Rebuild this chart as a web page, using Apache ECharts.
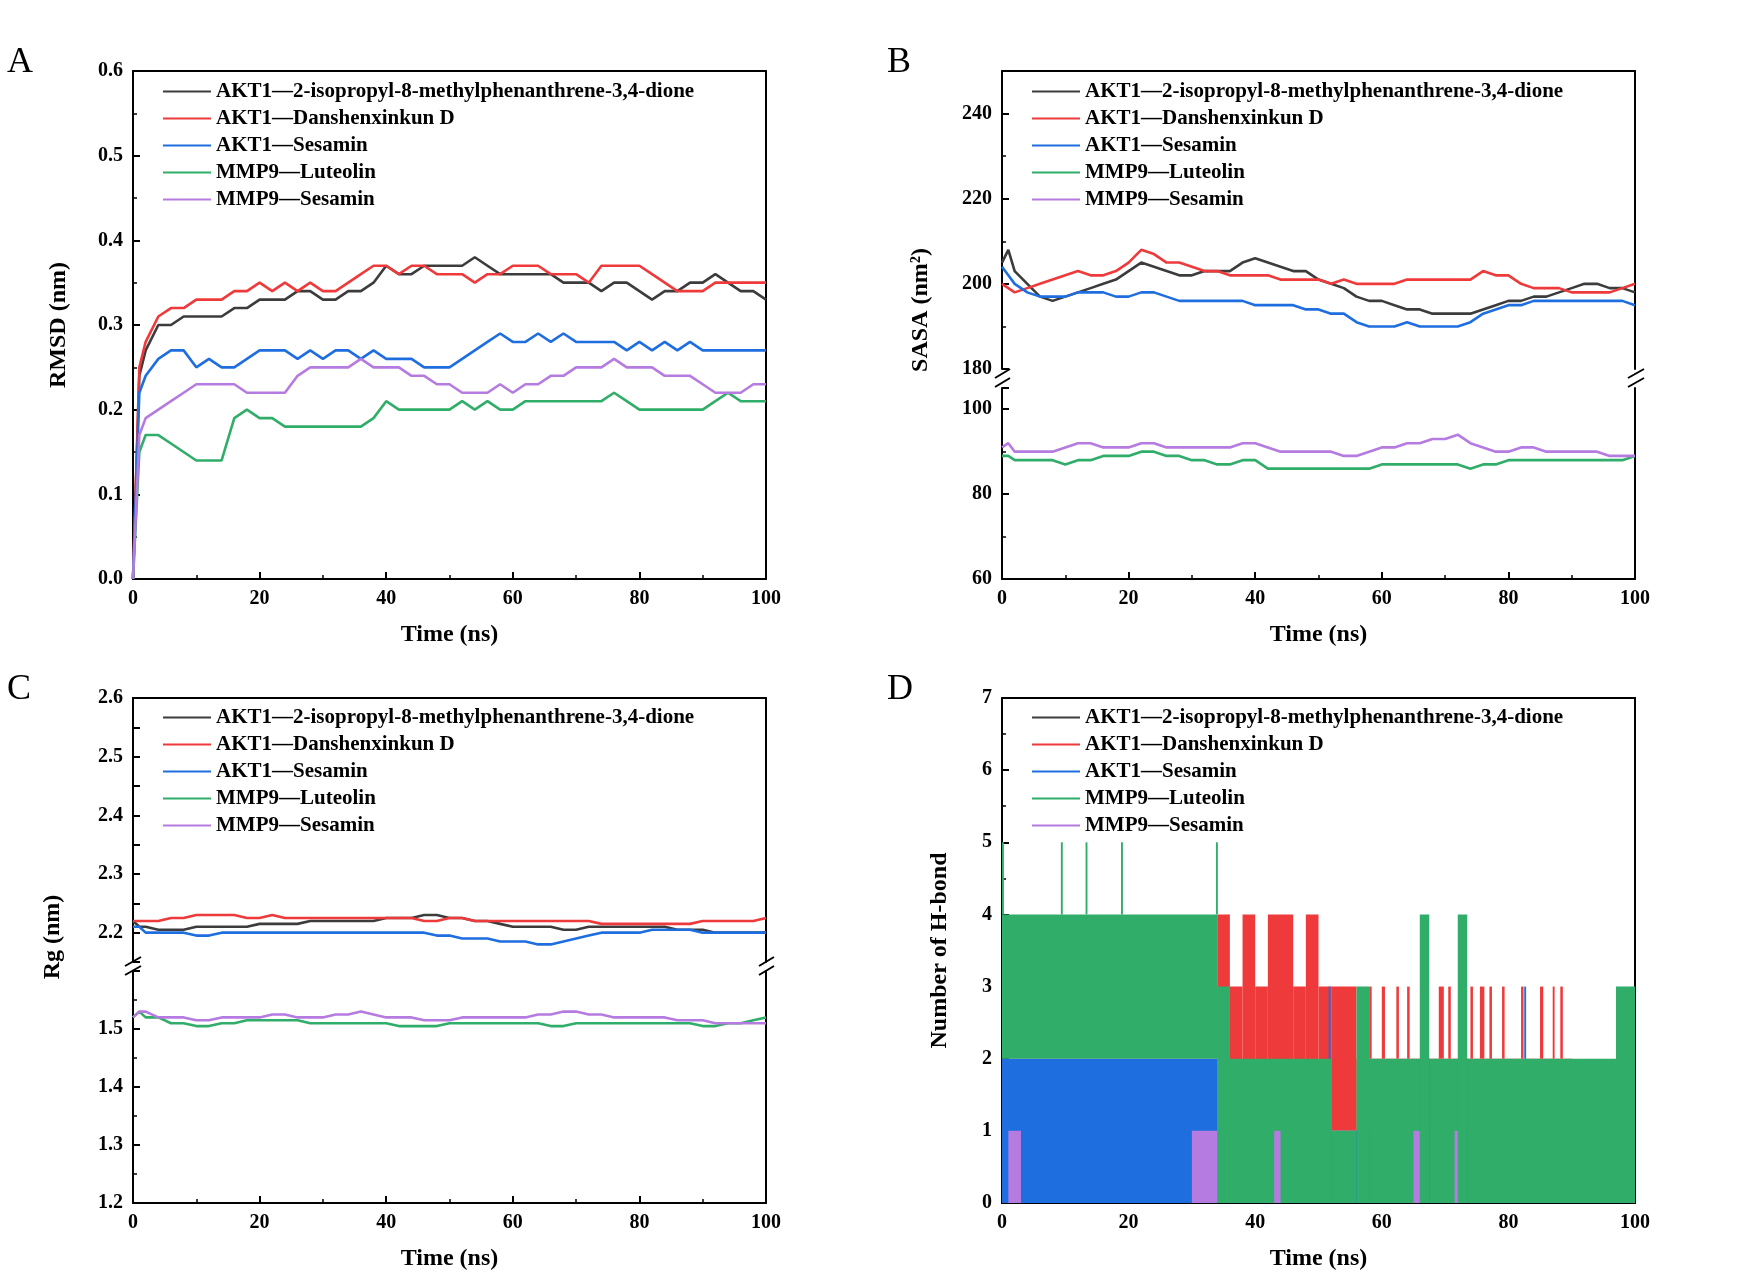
<!DOCTYPE html>
<html><head><meta charset="utf-8">
<script src="https://cdn.jsdelivr.net/npm/echarts@6/dist/echarts.min.js"></script>
<style>html,body{margin:0;background:#fff}#c{width:1752px;height:1272px}</style>
</head><body><div id="c"></div>
<script>
var names = ["AKT1\u20142-isopropyl-8-methylphenanthrene-3,4-dione","AKT1\u2014Danshenxinkun D","AKT1\u2014Sesamin","MMP9\u2014Luteolin","MMP9\u2014Sesamin"];
var colors = ["#3c3c3c","#ee3a3a","#1f6ee0","#31ad6a","#b57be0"];
var times = [0,1,2,4,6,8,10,12,14,16,18,20,22,24,26,28,30,32,34,36,38,40,42,44,46,48,50,52,54,56,58,60,62,64,66,68,70,72,74,76,78,80,82,84,86,88,90,92,94,96,98,100];

// RMSD (nm)
var rmsdBlack = [0,0.24,0.27,0.30,0.30,0.31,0.31,0.31,0.31,0.32,0.32,0.33,0.33,0.33,0.34,0.34,0.33,0.33,0.34,0.34,0.35,0.37,0.36,0.36,0.37,0.37,0.37,0.37,0.38,0.37,0.36,0.36,0.36,0.36,0.36,0.35,0.35,0.35,0.34,0.35,0.35,0.34,0.33,0.34,0.34,0.35,0.35,0.36,0.35,0.34,0.34,0.33];
var rmsdRed = [0,0.25,0.28,0.31,0.32,0.32,0.33,0.33,0.33,0.34,0.34,0.35,0.34,0.35,0.34,0.35,0.34,0.34,0.35,0.36,0.37,0.37,0.36,0.37,0.37,0.36,0.36,0.36,0.35,0.36,0.36,0.37,0.37,0.37,0.36,0.36,0.36,0.35,0.37,0.37,0.37,0.37,0.36,0.35,0.34,0.34,0.34,0.35,0.35,0.35,0.35,0.35];
var rmsdBlue = [0,0.22,0.24,0.26,0.27,0.27,0.25,0.26,0.25,0.25,0.26,0.27,0.27,0.27,0.26,0.27,0.26,0.27,0.27,0.26,0.27,0.26,0.26,0.26,0.25,0.25,0.25,0.26,0.27,0.28,0.29,0.28,0.28,0.29,0.28,0.29,0.28,0.28,0.28,0.28,0.27,0.28,0.27,0.28,0.27,0.28,0.27,0.27,0.27,0.27,0.27,0.27];
var rmsdGreen = [0,0.15,0.17,0.17,0.16,0.15,0.14,0.14,0.14,0.19,0.20,0.19,0.19,0.18,0.18,0.18,0.18,0.18,0.18,0.18,0.19,0.21,0.20,0.20,0.20,0.20,0.20,0.21,0.20,0.21,0.20,0.20,0.21,0.21,0.21,0.21,0.21,0.21,0.21,0.22,0.21,0.20,0.20,0.20,0.20,0.20,0.20,0.21,0.22,0.21,0.21,0.21];
var rmsdPurple = [0,0.17,0.19,0.20,0.21,0.22,0.23,0.23,0.23,0.23,0.22,0.22,0.22,0.22,0.24,0.25,0.25,0.25,0.25,0.26,0.25,0.25,0.25,0.24,0.24,0.23,0.23,0.22,0.22,0.22,0.23,0.22,0.23,0.23,0.24,0.24,0.25,0.25,0.25,0.26,0.25,0.25,0.25,0.24,0.24,0.24,0.23,0.22,0.22,0.22,0.23,0.23];

// SASA (nm2)
var sasaBlack = [205,208,203,200,197,196,197,198,199,200,201,203,205,204,203,202,202,203,203,203,205,206,205,204,203,203,201,200,199,197,196,196,195,194,194,193,193,193,193,194,195,196,196,197,197,198,199,200,200,199,199,198];
var sasaRed = [200,199,198,199,200,201,202,203,202,202,203,205,208,207,205,205,204,203,203,202,202,202,202,201,201,201,201,200,201,200,200,200,200,201,201,201,201,201,201,203,202,202,200,199,199,199,198,198,198,198,199,200];
var sasaBlue = [204,202,200,198,197,197,197,198,198,198,197,197,198,198,197,196,196,196,196,196,196,195,195,195,195,194,194,193,193,191,190,190,190,191,190,190,190,190,191,193,194,195,195,196,196,196,196,196,196,196,196,195];
var sasaGreen = [89,89,88,88,88,88,87,88,88,89,89,89,90,90,89,89,88,88,87,87,88,88,86,86,86,86,86,86,86,86,86,87,87,87,87,87,87,87,86,87,87,88,88,88,88,88,88,88,88,88,88,89];
var sasaPurple = [91,92,90,90,90,90,91,92,92,91,91,91,92,92,91,91,91,91,91,91,92,92,91,90,90,90,90,90,89,89,90,91,91,92,92,93,93,94,92,91,90,90,91,91,90,90,90,90,90,89,89,89];

// Rg (nm)
var rgBlack = [2.22,2.21,2.21,2.205,2.205,2.205,2.21,2.21,2.21,2.21,2.21,2.215,2.215,2.215,2.215,2.22,2.22,2.22,2.22,2.22,2.22,2.225,2.225,2.225,2.23,2.23,2.225,2.225,2.22,2.22,2.215,2.21,2.21,2.21,2.21,2.205,2.205,2.21,2.21,2.21,2.21,2.21,2.21,2.21,2.205,2.205,2.205,2.20,2.20,2.20,2.20,2.20];
var rgRed = [2.22,2.22,2.22,2.22,2.225,2.225,2.23,2.23,2.23,2.23,2.225,2.225,2.23,2.225,2.225,2.225,2.225,2.225,2.225,2.225,2.225,2.225,2.225,2.225,2.22,2.22,2.225,2.225,2.22,2.22,2.22,2.22,2.22,2.22,2.22,2.22,2.22,2.22,2.215,2.215,2.215,2.215,2.215,2.215,2.215,2.215,2.22,2.22,2.22,2.22,2.22,2.225];
var rgBlue = [2.21,2.21,2.20,2.20,2.20,2.20,2.195,2.195,2.20,2.20,2.20,2.20,2.20,2.20,2.20,2.20,2.20,2.20,2.20,2.20,2.20,2.20,2.20,2.20,2.20,2.195,2.195,2.19,2.19,2.19,2.185,2.185,2.185,2.18,2.18,2.185,2.19,2.195,2.20,2.20,2.20,2.20,2.205,2.205,2.205,2.205,2.20,2.20,2.20,2.20,2.20,2.20];
var rgGreen = [1.52,1.53,1.52,1.52,1.51,1.51,1.505,1.505,1.51,1.51,1.515,1.515,1.515,1.515,1.515,1.51,1.51,1.51,1.51,1.51,1.51,1.51,1.505,1.505,1.505,1.505,1.51,1.51,1.51,1.51,1.51,1.51,1.51,1.51,1.505,1.505,1.51,1.51,1.51,1.51,1.51,1.51,1.51,1.51,1.51,1.51,1.505,1.505,1.51,1.51,1.515,1.52];
var rgPurple = [1.52,1.53,1.53,1.52,1.52,1.52,1.515,1.515,1.52,1.52,1.52,1.52,1.525,1.525,1.52,1.52,1.52,1.525,1.525,1.53,1.525,1.52,1.52,1.52,1.515,1.515,1.515,1.52,1.52,1.52,1.52,1.52,1.52,1.525,1.525,1.53,1.53,1.525,1.525,1.52,1.52,1.52,1.52,1.52,1.515,1.515,1.515,1.51,1.51,1.51,1.51,1.51];

// H-bond bands: [from ns, to ns, low count, high count]
var hbRed = [[0,34,0,2],[34,36,1,4],[36,38,1,3],[38,40,1,4],[40,42,1,3],[42,46,1,4],[46,48,1,3],[48,50,1,4],[50,52,1,3],[52,56,1,3],[56,90,0,2],
  [58,58.4,2,3],[60,60.5,2,3],[62.3,62.7,2,3],[64,64.4,2,3],[69,69.8,2,3],[70.5,70.9,2,3],[74,74.4,2,3],[75.5,76.2,2,3],[77,77.4,2,3],[79,79.4,2,3],[82,82.4,2,3],[85,85.5,2,3],[87,87.3,2,3],[88.2,88.6,2,3]];
var hbBlue = [[0,34,0,2],[34,100,0,1],[51.6,51.9,1,3],[82.5,82.8,2,3]];
var hbGreen = [[0,34,2,4],[0,0.3,4,5],[9.3,9.6,4,5],[13.2,13.5,4,5],[18.8,19.1,4,5],[33.8,34.1,4,5],[34,36,0,3],[36,52,0,2],[52,56,0,1],[56,58,0,3],[58,66,0,2],[66,67.5,0,4],[67.5,72,0,2],[72,73.5,0,4],[73.5,97,0,2],[97,100,0,3]];
var hbPurple = [[1,3,0,1],[30,34,0,1],[43,44,0,1],[65,66,0,1],[71.5,72,0,1]];

var FONT = "Liberation Serif";
var S = 1752 / 1552;
function px(v){ return Math.round(v * S); }

function pairs(vals){ return vals.map(function(v,i){ return [times[i], v]; }); }

var grids = [], xAxes = [], yAxes = [], series = [], legends = [], graphics = [];

function addGrid(left, top, bottom){
  grids.push({left:px(left), width:px(561), top:px(top), height:px(bottom-top), containLabel:false});
  return grids.length - 1;
}
var axLine = {show:true, onZero:false, lineStyle:{color:"#000", width:2}};
function addX(g, showBottom, showTop, name){
  var idx = xAxes.length;
  xAxes.push({gridIndex:g, type:"value", min:0, max:100, interval:20, position:"bottom",
    axisLine:showBottom?axLine:{show:false}, splitLine:{show:false},
    axisTick:{show:showBottom, inside:true, length:7, lineStyle:{width:2,color:"#000"}},
    minorTick:{show:showBottom, splitNumber:2, length:4, lineStyle:{width:1.5,color:"#000"}},
    axisLabel:{show:showBottom, margin:10, fontFamily:FONT, fontWeight:"bold", fontSize:20, color:"#000"},
    name:name||"", nameLocation:"middle", nameGap:44,
    nameTextStyle:{fontFamily:FONT, fontWeight:"bold", fontSize:24, color:"#000"}});
  xAxes.push({gridIndex:g, type:"value", min:0, max:100, position:"top",
    axisLine:showTop?axLine:{show:false}, axisTick:{show:false}, axisLabel:{show:false}, splitLine:{show:false}});
  return idx;
}
function addY(g, min, max, interval, name, hideMax){
  var idx = yAxes.length;
  yAxes.push({gridIndex:g, type:"value", min:min, max:max, interval:interval, position:"left",
    axisLine:axLine, splitLine:{show:false},
    axisTick:{show:true, inside:true, length:7, lineStyle:{width:2,color:"#000"}},
    minorTick:{show:true, splitNumber:2, length:4, lineStyle:{width:1.5,color:"#000"}},
    axisLabel:{margin:10, fontFamily:FONT, fontWeight:"bold", fontSize:20, color:"#000", showMaxLabel:!hideMax,
      formatter:function(v){ return interval < 1 ? v.toFixed(1) : String(v); }},
    name:name||"", nameLocation:"middle", nameGap:62,
    nameTextStyle:{fontFamily:FONT, fontWeight:"bold", fontSize:24, color:"#000"}});
  yAxes.push({gridIndex:g, type:"value", min:min, max:max, position:"right",
    axisLine:axLine, axisTick:{show:false}, axisLabel:{show:false}, splitLine:{show:false}});
  return idx;
}
function addLine(k, vals, xi, yi){
  series.push({type:"line", name:names[k], data:pairs(vals), xAxisIndex:xi, yAxisIndex:yi,
    symbol:"none", color:colors[k], lineStyle:{width:2.6, color:colors[k]}, z:k+2, silent:true});
}
function addBands(k, bands, xi, yi, z){
  series.push({type:"custom", name:names[k], data:bands, xAxisIndex:xi, yAxisIndex:yi, z:z,
    color:colors[k], itemStyle:{color:colors[k]}, silent:true,
    renderItem:function(params, api){
      var a = api.coord([api.value(0), api.value(3)]);
      var b = api.coord([api.value(1), api.value(2)]);
      return {type:"rect", shape:{x:a[0], y:a[1], width:Math.max(b[0]-a[0],1.5), height:b[1]-a[1]},
        style:{fill:colors[k]}};
    }});
}
function addLegend(left, top){
  legends.push({orient:"vertical", left:px(left), top:px(top), itemGap:6, itemWidth:48, itemHeight:2,
    icon:"rect", data:names, selectedMode:false,
    textStyle:{fontFamily:FONT, fontWeight:"bold", fontSize:21, color:"#000"}});
}
function panelLabel(t, x, y){
  graphics.push({type:"text", left:px(x), top:px(y), style:{text:t, font:"36px '"+FONT+"'", fill:"#000"}});
}
function yTitle(t, x, cy){
  graphics.push({type:"text", x:px(x), y:px(cy), rotation:Math.PI/2,
    style:{text:t, font:"bold 24px '"+FONT+"'", fill:"#000", align:"center", verticalAlign:"middle"}});
}
function breakMarks(xl, yc){
  [xl, xl + 561].forEach(function(x){
    [-4, 4].forEach(function(d){
      graphics.push({type:"line", shape:{x1:px(x-7), y1:px(yc+d+4), x2:px(x+7), y2:px(yc+d-4)},
        style:{stroke:"#000", lineWidth:2}});
    });
  });
}

// Panel A
var gA = addGrid(118, 63, 513);
var xA = addX(gA, true, true, "Time (ns)");
var yA = addY(gA, 0, 0.6, 0.1, "RMSD (nm)");
[rmsdBlack, rmsdRed, rmsdBlue, rmsdGreen, rmsdPurple].forEach(function(v,k){ addLine(k, v, xA, yA); });
addLegend(140, 67);
panelLabel("A", 6, 40);

// Panel B (broken axis)
var gBu = addGrid(888, 63, 327), gBl = addGrid(888, 344, 513);
var xBu = addX(gBu, false, true), xBl = addX(gBl, true, false, "Time (ns)");
var yBu = addY(gBu, 180, 250, 20, "", true), yBl = addY(gBl, 60, 105, 20, "", true);
addLine(0, sasaBlack, xBu, yBu); addLine(1, sasaRed, xBu, yBu); addLine(2, sasaBlue, xBu, yBu);
addLine(3, sasaGreen, xBl, yBl); addLine(4, sasaPurple, xBl, yBl);
addLegend(910, 67);
panelLabel("B", 786, 40);
yTitle("SASA (nm\u00b2)", 816, 275);
breakMarks(888, 335);

// Panel C (broken axis)
var gCu = addGrid(118, 618, 852), gCl = addGrid(118, 860, 1068);
var xCu = addX(gCu, false, true), xCl = addX(gCl, true, false, "Time (ns)");
var yCu = addY(gCu, 2.15, 2.6, 0.05), yCl = addY(gCl, 1.2, 1.6, 0.1, "", true);
yAxes[yCu].minorTick.show = false;
yAxes[yCu].axisLabel.formatter = function(v){ return (Math.abs(v*10 - Math.round(v*10)) < 1e-6) ? v.toFixed(1) : ""; };
addLine(0, rgBlack, xCu, yCu); addLine(1, rgRed, xCu, yCu); addLine(2, rgBlue, xCu, yCu);
addLine(3, rgGreen, xCl, yCl); addLine(4, rgPurple, xCl, yCl);
addLegend(140, 622);
panelLabel("C", 6, 595);
yTitle("Rg (nm)", 47, 830);
breakMarks(118, 856);

// Panel D
var gD = addGrid(888, 618, 1068);
var xD = addX(gD, true, true, "Time (ns)");
var yD = addY(gD, 0, 7, 1, "Number of H-bond");
yAxes[yD].nameGap = 50;
series.push({type:"line", name:names[0], data:[], xAxisIndex:xD, yAxisIndex:yD, symbol:"none", color:colors[0]});
addBands(1, hbRed, xD, yD, 2);
addBands(2, hbBlue, xD, yD, 3);
addBands(3, hbGreen, xD, yD, 4);
addBands(4, hbPurple, xD, yD, 5);
addLegend(910, 622);
panelLabel("D", 786, 595);

var chart = echarts.init(document.getElementById("c"));
chart.setOption({backgroundColor:"#fff", animation:false, grid:grids, xAxis:xAxes, yAxis:yAxes,
  series:series, legend:legends, graphic:graphics});
</script></body></html>
